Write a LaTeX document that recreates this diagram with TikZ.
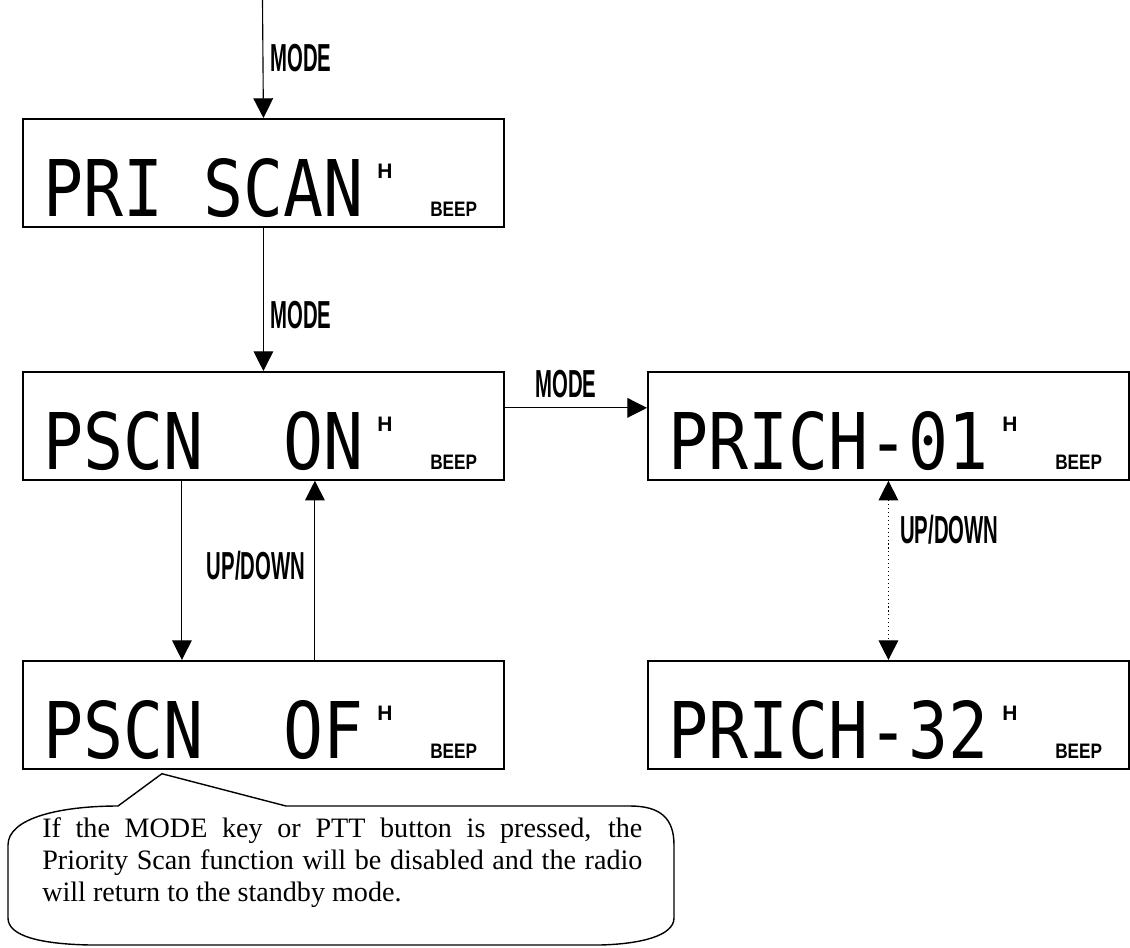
\documentclass[tikz,border=0pt]{standalone}
\usepackage{fontspec}
\setmainfont{Liberation Serif}
\newfontfamily\lcdfont[FakeStretch=0.85]{DejaVu Sans Mono}
\newfontfamily\keyfont[FakeStretch=0.52]{Liberation Sans}
\newfontfamily\beepfont[FakeStretch=0.82]{Liberation Sans}
\newfontfamily\markfont{Liberation Sans}
\usetikzlibrary{arrows.meta}

\begin{document}
\begin{tikzpicture}[
  x=0.025cm,
  y=-0.025cm,
  line/.style={draw=black,line width=0.8pt},
  arrow/.style={line,-{Triangle[length=14pt,width=14pt]}},
  dblarrow/.style={line,dotted,{Triangle[length=14pt,width=14pt]}-{Triangle[length=14pt,width=14pt]}},
  lcd/.style={draw=black,line width=1.2pt,anchor=north west,inner sep=0pt,minimum width=12.025cm,minimum height=2.7cm},
  lcdtext/.style={anchor=base west,inner sep=0pt,font=\lcdfont\fontsize{55.6}{60}\selectfont},
  hmark/.style={anchor=base west,inner sep=0pt,font=\markfont\bfseries\fontsize{14.9}{16}\selectfont},
  beep/.style={anchor=base west,inner sep=0pt,font=\beepfont\bfseries\fontsize{14.9}{16}\selectfont},
  key/.style={inner sep=0pt,font=\keyfont\bfseries\fontsize{27.8}{30}\selectfont},
  callout/.style={draw=black,line width=1pt},
  note/.style={anchor=north west,inner sep=0pt,text width=15cm,align=justify,font=\fontsize{20}{22.8}\selectfont}
]
\useasboundingbox (0,0) rectangle (1130,947);

% LCD displays
\node[lcd] (pri) at (22,118) {};
\node[lcd] (on) at (22,371) {};
\node[lcd] (off) at (22,660) {};
\node[lcd] (ch1) at (647,371) {};
\node[lcd] (ch32) at (647,660) {};

% Display contents
\node[lcdtext] (priT) at ([shift={(21,98)}]pri.north west) {PRI\ SCAN};
\node[lcdtext] (onT) at ([shift={(21,98)}]on.north west) {PSCN\ \ ON};
\node[lcdtext] (offT) at ([shift={(21,98)}]off.north west) {PSCN\ \ OF};
\node[lcdtext] (ch1T) at ([shift={(21,98)}]ch1.north west) {PRICH-01};
\node[lcdtext] (ch32T) at ([shift={(21,98)}]ch32.north west) {PRICH-32};
\foreach \b in {pri,on,off,ch1,ch32}{
  \node[hmark] (\b H) at ([shift={(355,60)}]\b.north west) {H};
  \node[beep] (\b B) at ([shift={(408,98)}]\b.north west) {BEEP};
}

% Key transitions
\coordinate (entry) at (262.5,0);
\draw[arrow] (entry) -- (pri.north);
\node[key,anchor=west] (modeA) at (270,58) {MODE};
\draw[arrow] (pri.south) -- (on.north);
\node[key,anchor=west] (modeB) at (270,315) {MODE};
\draw[arrow] ([shift={(0,-18)}]on.east) -- ([shift={(0,-18)}]ch1.west);
\node[key,anchor=south] (modeC) at (566,398) {MODE};
\draw[arrow] ([shift={(-81.5,0)}]on.south) -- ([shift={(-81.5,0)}]off.north);
\draw[arrow] ([shift={(51.5,0)}]off.north) -- ([shift={(51.5,0)}]on.south);
\node[key] (updownA) at (256,566) {UP/DOWN};
\draw[dblarrow] (ch1.south) -- (ch32.north);
\node[key,anchor=west] (updownB) at (900,530) {UP/DOWN};

% Callout under PSCN OF
\coordinate (tip) at ([shift={(-101.5,4)}]off.south);
\draw[callout] (8,845) .. controls (8,818) and (60,806) .. (118,806) -- (tip) -- (286,806)
  -- (630,806) .. controls (660,806) and (674,818) .. (674,845) -- (674,918)
  .. controls (674,936) and (640,944) .. (600,945) -- (90,945)
  .. controls (40,944) and (8,936) .. (8,918) -- cycle;
\node[note] (noteT) at (42,817)
  {If the MODE key or PTT button is pressed, the\linebreak
   Priority Scan function will be disabled and the radio\linebreak
   will return to the standby mode.};

\end{tikzpicture}
\end{document}
